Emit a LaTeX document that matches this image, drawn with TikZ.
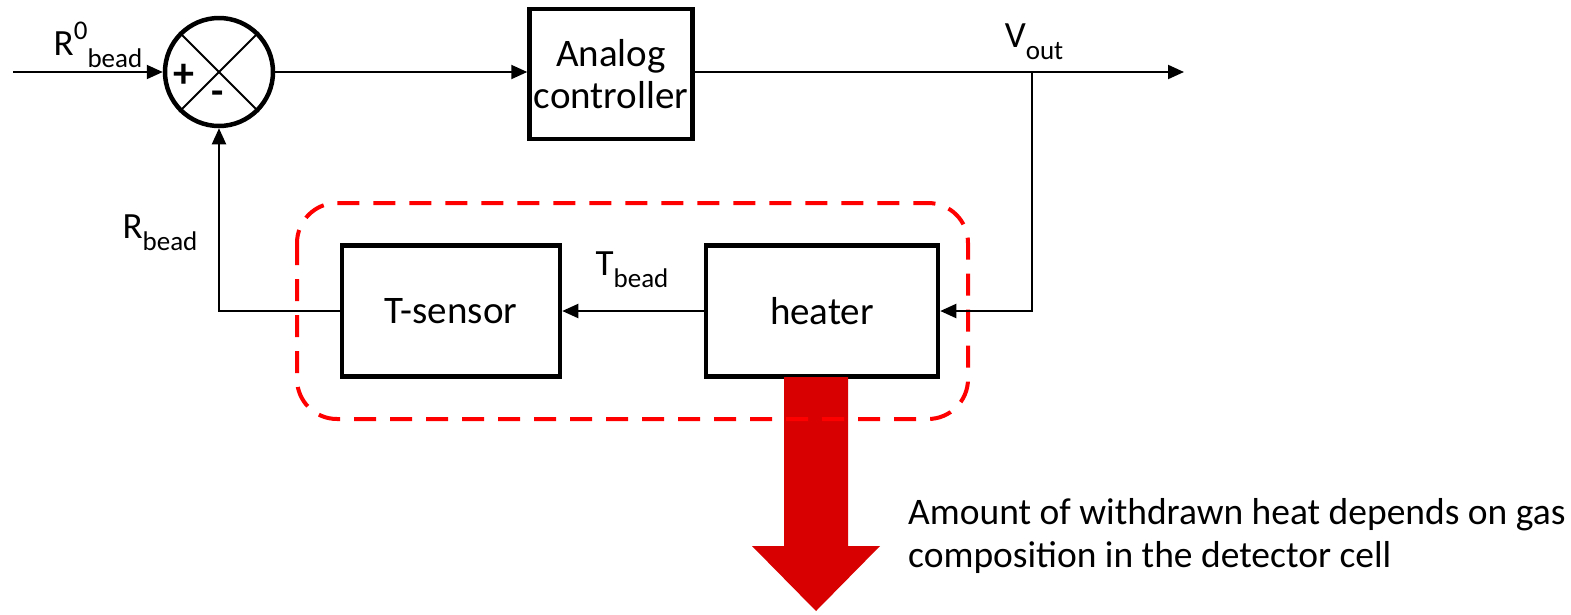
\documentclass[tikz,border=0pt]{standalone}
\usepackage{fontspec}
\setmainfont{Carlito}
\usetikzlibrary{arrows.meta}
\newcommand\lsub[1]{\raisebox{-0.32em}{\fontsize{27}{27}\selectfont #1}}
\newcommand\lsup[1]{\raisebox{0.42em}{\fontsize{27}{27}\selectfont #1}}
\tikzset{
  blk/.style={draw, line width=4.5pt, rectangle, align=center, font=\fontsize{39}{43}\selectfont},
  conn/.style={line width=2pt, -{Triangle[length=16pt,width=14pt]}},
  lbl/.style={font=\fontsize{37}{40}\selectfont, inner sep=0pt},
}
\definecolor{dashred}{RGB}{255,0,0}
\definecolor{arrred}{RGB}{216,0,0}
\begin{document}
\begin{tikzpicture}[x=1pt,y=-1pt]
\useasboundingbox (0,0) rectangle (1571,614);
% nodes
\node[draw, circle, line width=4.5pt, minimum size=108pt, inner sep=0pt] (sum) at (219,72) {};
\draw[line width=2pt] (sum.north east) -- (sum.south west);
\draw[line width=2pt] (sum.north west) -- (sum.south east);
\node[lbl, font=\bfseries\fontsize{42}{42}\selectfont] (plus) at (184,76) {+};
\node[lbl, font=\bfseries\fontsize{40}{40}\selectfont] (minus) at (218,98) {-};
\node[blk, minimum width=163pt, minimum height=130pt, font=\fontsize{39}{42}\selectfont] (ctrl) at (611,74) {Analog\\controller};
\node[blk, minimum width=218pt, minimum height=131pt] (tsens) at (451,311) {T-sensor};
\node[blk, minimum width=232pt, minimum height=131pt] (heat) at (822,311) {heater};
\coordinate (in) at (13,72);
\coordinate (out) at (1184,72);
\coordinate (br) at (1032,72);
\coordinate (brd) at (1032,311);
\coordinate (rb) at (219,311);
% red block arrow
\fill[arrred] (784,377) -- (848,377) -- (848,546) -- (880,546) -- (816,611) -- (752,546) -- (784,546) -- cycle;
% dashed region
\draw[dashred, line width=4pt, dash pattern=on 22pt off 14pt, rounded corners=40pt] (297,203) rectangle (968,419);
% connectors
\draw[conn] (in) -- (sum.west);
\draw[conn] (sum.east) -- (ctrl.west |- sum.east);
\draw[conn] (ctrl.east |- sum.east) -- (out);
\draw[conn] (br) -- (brd) -- (heat.east);
\draw[conn] (heat.west) -- (tsens.east);
\draw[conn] (tsens.west) -- (rb) -- (sum.south);
% labels
\node[lbl] (r0) at (98,45) {R\lsup{0}\lsub{bead}};
\node[lbl] (rbl) at (160,233) {R\lsub{bead}};
\node[lbl] (tbl) at (632,270) {T\lsub{bead}};
\node[lbl] (vout) at (1034,42) {V\lsub{out}};
\node[lbl, anchor=west, align=left, font=\fontsize{37.5}{43}\selectfont] (txt) at (908,536) {Amount of withdrawn heat depends on gas\\composition in the detector cell};
\end{tikzpicture}
\end{document}
